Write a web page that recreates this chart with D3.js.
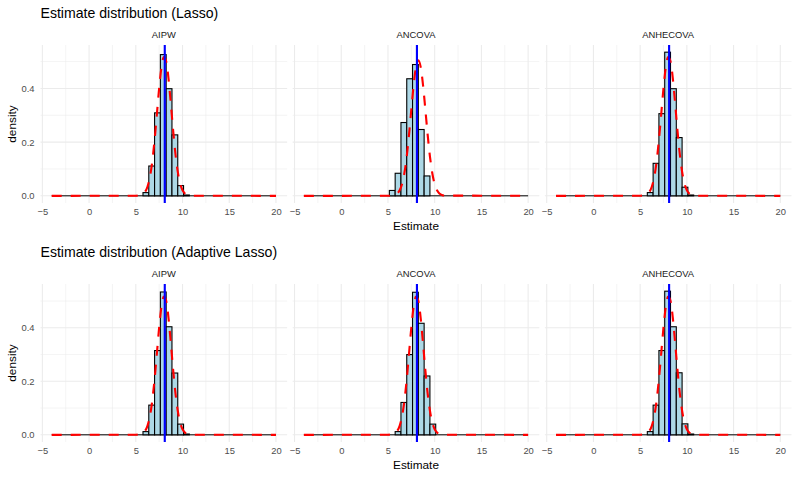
<!DOCTYPE html>
<html>
<head>
<meta charset="utf-8">
<script src="https://cdn.jsdelivr.net/npm/d3@7"></script>
<style>
  body { margin: 0; background: #fff; }
  svg { display: block; font-family: "Liberation Sans", Arial, sans-serif; }
</style>
</head>
<body>
<div class="container"></div>
<script>
// facets and row titles
var methods = ["AIPW", "ANCOVA", "ANHECOVA"];
var rowTitles = ["Estimate distribution (Lasso)", "Estimate distribution (Adaptive Lasso)"];

// histogram bins (left edges) and bin width
var binStarts = [5.15, 5.77, 6.39, 7.01, 7.63, 8.25, 8.87, 9.49, 10.11];
var binWidth = 0.62;
var histRange = [-4, 20];

// densities per bin
var lassoAIPW     = [0, 0.012, 0.111, 0.309, 0.526, 0.399, 0.227, 0.038, 0.003];
var lassoANCOVA   = [0.020, 0.084, 0.273, 0.436, 0.489, 0.247, 0.074, 0, 0];
var lassoANHECOVA = [0, 0.012, 0.121, 0.306, 0.535, 0.399, 0.217, 0.032, 0.003];
var adaAIPW       = [0, 0.012, 0.111, 0.315, 0.534, 0.404, 0.231, 0.040, 0.003];
var adaANCOVA     = [0, 0.012, 0.121, 0.300, 0.533, 0.417, 0.220, 0.040, 0];
var adaANHECOVA   = [0, 0.012, 0.111, 0.315, 0.537, 0.404, 0.232, 0.041, 0.003];

// red dashed reference density
var curveX = [-4, 5, 5.25, 5.5, 5.75, 6, 6.25, 6.5, 6.75, 7, 7.25, 7.5, 7.75, 8,
              8.25, 8.5, 8.75, 9, 9.25, 9.5, 9.75, 10, 10.25, 10.5, 10.75, 11, 20];
var curveA = [0, 0.0002, 0.0007, 0.0021, 0.0060, 0.0150, 0.0337, 0.0683, 0.1246, 0.2044,
              0.3018, 0.4014, 0.4801, 0.5169, 0.5009, 0.4367, 0.3427, 0.2420, 0.1539,
              0.0880, 0.0453, 0.0210, 0.0088, 0.0033, 0.0011, 0.0003, 0];
var curveB = [0, 0.0001, 0.0004, 0.0012, 0.0034, 0.0087, 0.0205, 0.0434, 0.0832, 0.1444,
              0.2267, 0.3218, 0.4133, 0.4803, 0.5050, 0.4803, 0.4133, 0.3218, 0.2267,
              0.1444, 0.0832, 0.0434, 0.0205, 0.0087, 0.0034, 0.0012, 0];

var trueValue = 8.1;

var xTicks = [-5, 0, 5, 10, 15, 20];
var xMinor = [-2.5, 2.5, 7.5, 12.5, 17.5];
var yTicks = [0, 0.2, 0.4];
var yMinor = [0.1, 0.3, 0.5];

var rows = [
  { title: rowTitles[0], hist: [lassoAIPW, lassoANCOVA, lassoANHECOVA], curve: [curveA, curveB, curveA] },
  { title: rowTitles[1], hist: [adaAIPW, adaANCOVA, adaANHECOVA], curve: [curveA, curveA, curveA] }
];

var W = 797, H = 478, rowH = 239;
var plotL = 40.5, plotR = 791.5, gap = 5.5;
var panelW = (plotR - plotL - 2 * gap) / 3;
var panelTop = 45, panelH = 158;
var fontAxis = 9.4, fontTitle = 14.1, fontLab = 11.8;

var svg = d3.select('.container').append('svg')
  .attr('width', W).attr('height', H);

var xDomain = [histRange[0] - 0.05 * (histRange[1] - histRange[0]),
               histRange[1] + 0.05 * (histRange[1] - histRange[0])];

rows.forEach(function(row, r) {
  var g = svg.append('g').attr('transform', 'translate(0,' + (r * rowH) + ')');

  var ymax = d3.max(row.hist.concat(row.curve), function(a) { return d3.max(a); });
  var y = d3.scaleLinear()
    .domain([-0.05 * ymax, ymax * 1.05])
    .range([panelTop + panelH, panelTop]);

  g.append('text')
    .attr('x', plotL).attr('y', 17.5)
    .attr('font-size', fontTitle).attr('fill', '#000')
    .text(row.title);

  g.append('text')
    .attr('transform', 'translate(16,' + (panelTop + panelH / 2) + ') rotate(-90)')
    .attr('text-anchor', 'middle')
    .attr('font-size', fontLab).attr('fill', '#000')
    .text('density');

  g.append('text')
    .attr('x', (plotL + plotR) / 2).attr('y', 229.5)
    .attr('text-anchor', 'middle')
    .attr('font-size', fontLab).attr('fill', '#000')
    .text('Estimate');

  methods.forEach(function(m, i) {
    var left = plotL + i * (panelW + gap);
    var x = d3.scaleLinear().domain(xDomain).range([left, left + panelW]);
    var p = g.append('g');

    // grid
    p.selectAll('.xminor').data(xMinor).enter().append('line')
      .attr('x1', function(d) { return x(d); }).attr('x2', function(d) { return x(d); })
      .attr('y1', panelTop).attr('y2', panelTop + panelH)
      .attr('stroke', '#EBEBEB').attr('stroke-width', 0.53);
    p.selectAll('.yminor').data(yMinor).enter().append('line')
      .attr('y1', function(d) { return y(d); }).attr('y2', function(d) { return y(d); })
      .attr('x1', left).attr('x2', left + panelW)
      .attr('stroke', '#EBEBEB').attr('stroke-width', 0.53);
    p.selectAll('.xmajor').data(xTicks).enter().append('line')
      .attr('x1', function(d) { return x(d); }).attr('x2', function(d) { return x(d); })
      .attr('y1', panelTop).attr('y2', panelTop + panelH)
      .attr('stroke', '#EBEBEB').attr('stroke-width', 1.07);
    p.selectAll('.ymajor').data(yTicks).enter().append('line')
      .attr('y1', function(d) { return y(d); }).attr('y2', function(d) { return y(d); })
      .attr('x1', left).attr('x2', left + panelW)
      .attr('stroke', '#EBEBEB').attr('stroke-width', 1.07);

    // strip label
    p.append('text')
      .attr('x', left + panelW / 2).attr('y', 38)
      .attr('text-anchor', 'middle')
      .attr('font-size', fontAxis).attr('fill', '#1A1A1A')
      .text(m);

    // x axis
    var xa = p.append('g')
      .attr('transform', 'translate(0,' + (panelTop + panelH) + ')')
      .call(d3.axisBottom(x).tickValues(xTicks).tickSize(0).tickPadding(5)
        .tickFormat(d3.format('d')));
    xa.select('.domain').remove();
    xa.selectAll('text').attr('font-size', fontAxis).attr('fill', '#4D4D4D')
      .attr('font-family', '"Liberation Sans", Arial, sans-serif');

    if (i === 0) {
      var ya = p.append('g')
        .attr('transform', 'translate(' + left + ',0)')
        .call(d3.axisLeft(y).tickValues(yTicks).tickSize(0).tickPadding(6)
          .tickFormat(d3.format('.1f')));
      ya.select('.domain').remove();
      ya.selectAll('text').attr('font-size', fontAxis).attr('fill', '#4D4D4D')
        .attr('font-family', '"Liberation Sans", Arial, sans-serif');
    }

    // empty bins outline along zero
    p.append('line')
      .attr('x1', x(histRange[0])).attr('x2', x(histRange[1]))
      .attr('y1', y(0)).attr('y2', y(0))
      .attr('stroke', '#000').attr('stroke-width', 1);

    // histogram
    var dens = row.hist[i];
    p.selectAll('.bar').data(binStarts.map(function(b, k) { return { x0: b, d: dens[k] }; })
        .filter(function(d) { return d.d > 0; }))
      .enter().append('rect')
      .attr('x', function(d) { return x(d.x0); })
      .attr('width', function(d) { return x(d.x0 + binWidth) - x(d.x0); })
      .attr('y', function(d) { return y(d.d); })
      .attr('height', function(d) { return y(0) - y(d.d); })
      .attr('fill', '#ADD8E6')
      .attr('stroke', '#000').attr('stroke-width', 1.1);

    // reference density curve
    var cv = row.curve[i];
    var line = d3.line()
      .x(function(d, k) { return x(curveX[k]); })
      .y(function(d) { return y(d); })
      .curve(d3.curveMonotoneX);
    p.append('path')
      .attr('d', line(cv))
      .attr('fill', 'none')
      .attr('stroke', '#FF0000').attr('stroke-width', 2.13)
      .attr('stroke-dasharray', '10,9');

    // true value
    p.append('line')
      .attr('x1', x(trueValue)).attr('x2', x(trueValue))
      .attr('y1', panelTop).attr('y2', panelTop + panelH)
      .attr('stroke', '#0000FF').attr('stroke-width', 2.13);
  });
});
</script>
</body>
</html>
